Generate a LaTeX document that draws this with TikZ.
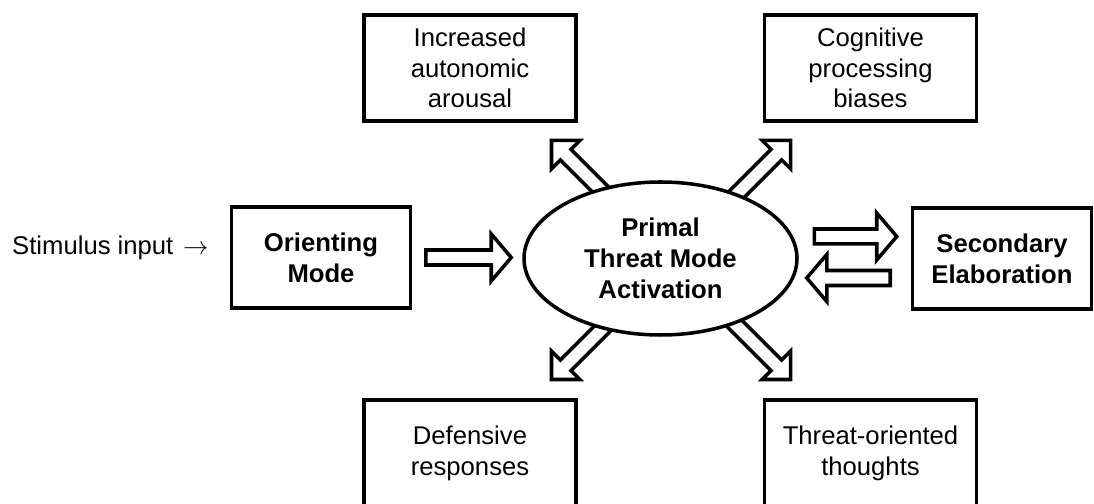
\documentclass[tikz,border=0pt]{standalone}
\usepackage{fontspec}
\setmainfont{Liberation Sans}
\usetikzlibrary{shapes.geometric,calc,positioning,backgrounds}

% hollow block arrow: shaft half width and head length
\def\shaftw{0.15cm}
\def\headlen{0.40cm}
% \blockarrow[head half width]{tail}{tip}
\newcommand{\blockarrow}[3][0.40cm]{%
  \coordinate (ba-h) at ($(#3)!\headlen!(#2)$);
  \draw[hollow] ($(#2)!\shaftw!90:(#3)$) -- ($(ba-h)!\shaftw!90:(#3)$)
    -- ($(ba-h)!#1!90:(#3)$) -- (#3) -- ($(ba-h)!#1!-90:(#3)$)
    -- ($(ba-h)!\shaftw!-90:(#3)$) -- ($(#2)!\shaftw!-90:(#3)$) -- cycle;
}

\begin{document}
\begin{tikzpicture}[
  every node/.style={font=\fontsize{14.6}{17.5}\selectfont, align=center},
  effectbox/.style={draw, line width=2pt, fill=white,
    minimum width=4.24cm, minimum height=2.12cm},
  modebox/.style={draw, line width=2pt, fill=white,
    minimum width=3.58cm, minimum height=2.02cm,
    font=\fontsize{14.6}{17.5}\selectfont\bfseries},
  hollow/.style={draw, line width=2pt, fill=white, line join=miter}
]
\useasboundingbox (0,0) rectangle (21.88,10.08);

% Central mode
\node[ellipse, draw, line width=2pt, fill=white, inner sep=0pt,
      minimum width=5.46cm, minimum height=3.06cm,
      font=\fontsize{14.6}{17.5}\selectfont\bfseries]
  (core) at (13.21,4.91) {Primal\\Threat Mode\\Activation};

% Input and elaboration modes
\node[modebox] (ori) at (6.42,4.93) {Orienting\\Mode};
\node[modebox] (sec) at (20.04,4.91) {Secondary\\Elaboration};
\node[anchor=base east, inner sep=0pt] (stim) at ($(ori.west)+(-0.42,0.05)$)
  {Stimulus input\hspace{0.1em} $\rightarrow$};

% Effects of activation
\node[effectbox] (inc) at (9.40,8.72) {Increased\\autonomic\\arousal};
\node[effectbox] (cog) at (17.41,8.72) {Cognitive\\processing\\biases};
\node[effectbox] (def) at (9.40,1.02) {Defensive\\responses};
\node[effectbox] (thr) at (17.41,1.02) {Threat-oriented\\thoughts};

% Arrow end points
\coordinate (in-a) at ($(ori.east)+(0.27,0)$);
\coordinate (in-b) at ($(ori.east -| core.west)+(-0.22,0)$);
\coordinate (up-a) at ($(core.east)+(0.31,0.44)$);
\coordinate (up-b) at ($(sec.west)+(-0.28,0.44)$);
\coordinate (dn-a) at ($(sec.west)+(-0.41,-0.39)$);
\coordinate (dn-b) at ($(core.east)+(0.16,-0.39)$);
\coordinate (hub) at ($(core.center)+(0.21,-0.03)$);

\begin{pgfonlayer}{background}
  \blockarrow[0.47cm]{in-a}{in-b}
  \blockarrow[0.47cm]{up-a}{up-b}
  \blockarrow[0.47cm]{dn-a}{dn-b}
  % diagonal arrows start under the ellipse
  \foreach \ang in {45,135,225,315}{
    \coordinate (tip-\ang) at ($(hub)+(\ang:3.38)$);
    \blockarrow{hub}{tip-\ang}
  }
\end{pgfonlayer}
\end{tikzpicture}
\end{document}
